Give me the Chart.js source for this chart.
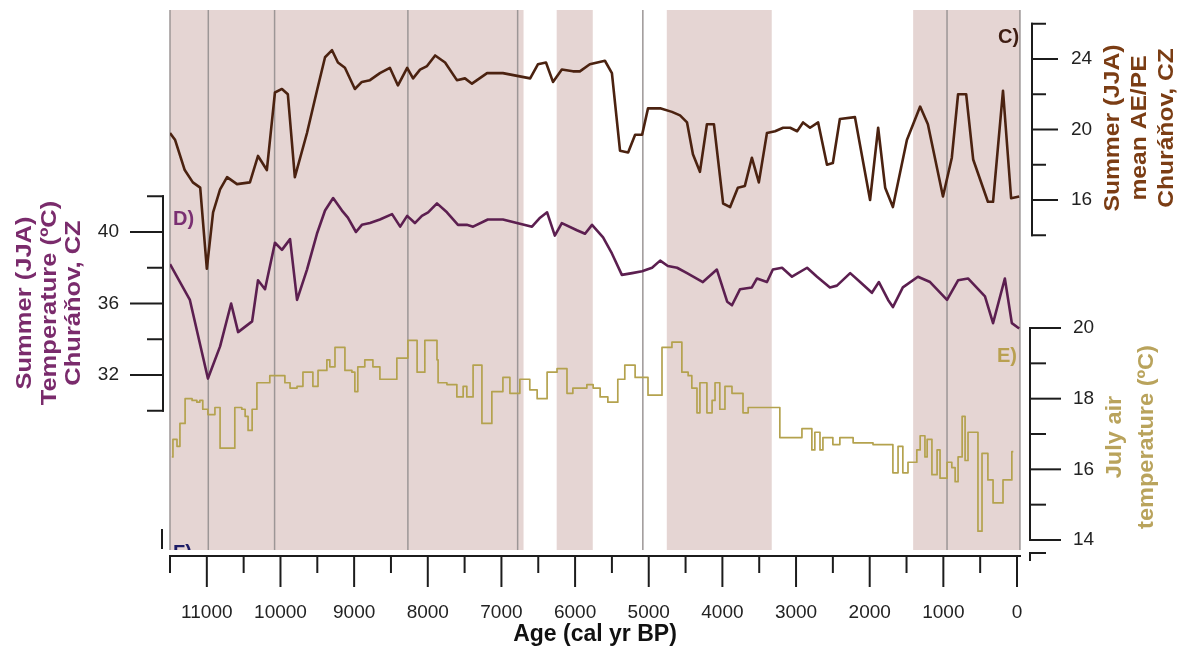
<!DOCTYPE html>
<html>
<head>
<meta charset="utf-8">
<script src="https://cdn.jsdelivr.net/npm/chart.js@4.4.1/dist/chart.umd.min.js"></script>
<style>
  body { margin: 0; background: #fff; }
  #wrap { width: 1181px; height: 650px; }
</style>
</head>
<body>
<div id="wrap"><canvas id="myChart" width="1181" height="650"></canvas></div>
<script>
// C) Summer (JJA) mean AE/PE, Churáňov
const ageC = [11500, 11430, 11300, 11190, 11090, 11000, 10915, 10820, 10725, 10590, 10415, 10305, 10185, 10075, 9980, 9900, 9805, 9640, 9505, 9395,
  9300, 9220, 9125, 8990, 8895, 8785, 8650, 8515, 8405, 8280, 8200, 8105, 8010, 7900, 7765, 7605, 7495, 7400, 7195, 6980,
  6610, 6505, 6395, 6300, 6180, 6030, 5935, 5800, 5595, 5500, 5390, 5280, 5185, 5090, 5010, 4845, 4685, 4575, 4480, 4400,
  4305, 4210, 4115, 3990, 3895, 3790, 3695, 3600, 3505, 3395, 3285, 3175, 3080, 2985, 2905, 2810, 2700, 2580, 2500, 2405,
  2200, 1995, 1885, 1790, 1685, 1495, 1315, 1210, 1005, 885, 800, 690, 595, 395, 325, 190, 80, -30];
const valC = [19.8, 19.4, 17.7, 17.0, 16.7, 12.1, 15.3, 16.6, 17.3, 16.9, 17.0, 18.5, 17.7, 22.1, 22.3, 22.0, 17.3, 19.8, 22.2, 24.1,
  24.5, 23.8, 23.5, 22.3, 22.7, 22.8, 23.2, 23.5, 22.5, 23.5, 22.9, 23.4, 23.6, 24.2, 23.8, 22.8, 22.9, 22.6, 23.2, 23.2,
  22.9, 23.7, 23.8, 22.7, 23.4, 23.3, 23.3, 23.7, 23.9, 23.2, 18.8, 18.7, 19.7, 19.7, 21.2, 21.2, 21.0, 20.8, 20.4, 18.6,
  17.6, 20.3, 20.3, 15.8, 15.6, 16.7, 16.8, 18.4, 17.0, 19.8, 19.9, 20.1, 20.1, 19.9, 20.4, 20.1, 20.4, 18.0, 18.1, 20.6,
  20.7, 16.0, 20.1, 16.7, 15.6, 19.4, 21.3, 20.3, 16.2, 18.4, 22.0, 22.0, 18.3, 15.9, 15.9, 22.2, 16.1, 16.2];

// D) Summer (JJA) temperature, Churáňov
const ageD = [11500, 11230, 10985, 10820, 10670, 10575, 10385, 10305, 10210, 10075, 9980, 9870, 9775, 9640, 9505, 9395, 9285, 9165, 9085, 8975,
  8895, 8785, 8650, 8485, 8375, 8280, 8175, 8080, 7995, 7875, 7740, 7590, 7470, 7385, 7185, 6980, 6585, 6475, 6380, 6275,
  6180, 5975, 5865, 5770, 5620, 5500, 5365, 5225, 5090, 4955, 4845, 4740, 4615, 4480, 4265, 4075, 3935, 3870, 3760, 3600,
  3530, 3395, 3315, 3190, 3055, 2850, 2715, 2540, 2445, 2265, 2130, 1970, 1875, 1750, 1685, 1550, 1345, 1180, 950, 800,
  665, 435, 325, 165, 70, -30];
const valD = [38.2, 36.2, 31.8, 33.6, 36.0, 34.4, 35.0, 37.3, 36.8, 39.4, 39.0, 39.6, 36.2, 37.9, 39.9, 41.2, 41.9, 41.2, 40.8, 40.0,
  40.4, 40.5, 40.7, 41.0, 40.3, 40.9, 40.5, 40.9, 41.1, 41.6, 41.1, 40.4, 40.4, 40.3, 40.7, 40.7, 40.3, 40.8, 41.1, 39.8,
  40.5, 40.1, 39.9, 40.4, 39.7, 38.8, 37.6, 37.7, 37.8, 38.0, 38.4, 38.1, 38.0, 37.7, 37.2, 37.9, 36.1, 35.9, 36.8, 36.9,
  37.4, 37.2, 37.9, 38.0, 37.5, 38.0, 37.5, 36.9, 37.0, 37.7, 37.2, 36.6, 37.2, 36.2, 35.8, 36.9, 37.5, 37.2, 36.2, 37.3,
  37.4, 36.4, 34.9, 37.4, 34.9, 34.6];

// E) July air temperature (step record)
const ageE = [11475, 11460, 11405, 11365, 11295, 11200, 11135, 11095, 11055, 10985, 10890, 10820, 10620, 10525, 10480, 10440, 10385, 10320, 10145, 9940,
  9870, 9775, 9695, 9560, 9490, 9370, 9330, 9260, 9125, 9030, 8990, 8950, 8855, 8745, 8650, 8420, 8270, 8145, 8040, 7875,
  7860, 7740, 7605, 7520, 7470, 7385, 7265, 7130, 6980, 6885, 6750, 6615, 6515, 6380, 6245, 6110, 6030, 5840, 5755, 5660,
  5555, 5420, 5325, 5185, 5010, 4820, 4685, 4550, 4465, 4415, 4345, 4305, 4210, 4140, 4100, 4035, 3965, 3870, 3720, 3650,
  3220, 2920, 2785, 2745, 2675, 2635, 2500, 2405, 2225, 1955, 1685, 1615, 1550, 1480, 1360, 1315, 1250, 1220, 1155, 1085,
  1045, 950, 885, 840, 800, 745, 705, 665, 530, 475, 395, 325, 190, 70, 50];
const valE = [16.35, 16.85, 16.65, 17.3, 18.0, 17.95, 17.9, 17.95, 17.7, 17.55, 17.75, 16.6, 17.75, 17.7, 17.5, 17.1, 17.7, 18.45, 18.65, 18.45,
  18.3, 18.35, 18.75, 18.35, 18.8, 19.1, 18.9, 19.45, 18.8, 18.75, 18.2, 18.9, 19.1, 18.9, 18.55, 19.15, 19.65, 18.75, 19.65, 19.1,
  18.45, 18.4, 18.05, 18.35, 18.05, 18.95, 17.3, 18.2, 18.6, 18.15, 18.55, 18.25, 18.0, 18.75, 18.85, 18.15, 18.3, 18.4, 18.3, 18.05,
  17.9, 18.55, 18.95, 18.6, 18.1, 19.45, 19.6, 18.75, 18.65, 18.3, 17.6, 18.45, 17.6, 17.95, 18.45, 17.7, 18.35, 18.15, 17.6, 17.75,
  16.9, 17.15, 16.55, 17.05, 16.55, 16.9, 16.7, 16.9, 16.75, 16.7, 15.9, 16.65, 15.9, 16.2, 16.55, 16.95, 16.35, 16.85, 15.85, 16.55,
  15.75, 16.2, 16.05, 15.65, 16.35, 17.5, 16.25, 17.05, 14.25, 16.45, 15.7, 15.05, 15.7, 16.5, 16.5];

// shaded intervals and event lines (cal yr BP)
const bands = [[11500, 6700], [6250, 5760], [4755, 3330], [1410, -40]];
const events = [11500, 10980, 10080, 8270, 6780, 5080, 950, -40];

// tick labels
const xLabels = [0, 1000, 2000, 3000, 4000, 5000, 6000, 7000, 8000, 9000, 10000, 11000];
const ticksC = [16, 20, 24];
const ticksD = [32, 36, 40];
const ticksE = [14, 16, 18, 20];

const FONT = "'Liberation Sans', Arial, sans-serif";
Chart.defaults.font.family = FONT;

// plot box in canvas pixels
const area = { left: 170, right: 1020, top: 10, bottom: 556 };
const pxPerYr = (1017 - 170) / 11500;

// each panel axis only covers part of the plot height
function yLimits(v1, p1, v2, p2) {
  const u = (p2 - p1) / (v1 - v2);
  return { min: v2 - (area.bottom - p2) / u, max: v1 + (p1 - area.top) / u };
}
const limC = yLimits(24, 59, 16, 200);
const limD = yLimits(40, 232, 32, 375);
const limE = yLimits(20, 328, 14, 540);

function pts(ages, vals) {
  return ages.map((a, i) => ({ x: a, y: vals[i] }));
}

function drawYAxis(ctx, s, o) {
  const dir = o.side === 'left' ? -1 : 1;
  ctx.strokeStyle = '#1c1c1c';
  ctx.lineWidth = 2;
  ctx.lineCap = 'square';
  ctx.beginPath();
  ctx.moveTo(o.x, s.getPixelForValue(o.hi));
  ctx.lineTo(o.x, s.getPixelForValue(o.lo));
  ctx.stroke();
  ctx.fillStyle = '#222';
  ctx.font = '19px ' + FONT;
  ctx.textBaseline = 'middle';
  ctx.textAlign = o.side === 'left' ? 'right' : 'left';
  for (let v = o.lo; v <= o.hi + 1e-6; v += o.step) {
    const py = s.getPixelForValue(v);
    const major = o.labels.includes(v);
    ctx.beginPath();
    ctx.moveTo(o.x, py);
    ctx.lineTo(o.x + dir * (major ? o.majLen : o.minLen), py);
    ctx.stroke();
    if (major) ctx.fillText(String(v), o.x + dir * (o.majLen + o.gap), py);
  }
}

// rotated multi-line axis title, slightly stretched along the text like the source figure
function drawTitle(ctx, lines, xs, cy, color, stretch) {
  ctx.save();
  ctx.fillStyle = color;
  ctx.font = 'bold 22px ' + FONT;
  ctx.textAlign = 'center';
  ctx.textBaseline = 'middle';
  lines.forEach((t, i) => {
    ctx.save();
    ctx.translate(xs[i], cy);
    ctx.rotate(-Math.PI / 2);
    ctx.scale(stretch, 1);
    ctx.fillText(t, 0, 0);
    ctx.restore();
  });
  ctx.restore();
}

const decor = {
  id: 'decor',
  beforeDatasetsDraw(chart) {
    const { ctx, chartArea: a, scales: { x } } = chart;
    ctx.save();
    ctx.fillStyle = '#e5d5d3';
    bands.forEach(([b0, b1]) => {
      const x0 = x.getPixelForValue(b0), x1 = x.getPixelForValue(b1);
      ctx.fillRect(Math.min(x0, x1), a.top, Math.abs(x1 - x0), a.bottom - 6 - a.top);
    });
    ctx.strokeStyle = '#9c9696';
    ctx.lineWidth = 1.5;
    events.forEach(v => {
      const px = x.getPixelForValue(v);
      ctx.beginPath();
      ctx.moveTo(px, a.top);
      ctx.lineTo(px, a.bottom - 6);
      ctx.stroke();
    });
    // clipped label of the panel below
    ctx.beginPath();
    ctx.rect(a.left, a.top, a.right - a.left, a.bottom - 6 - a.top);
    ctx.clip();
    ctx.fillStyle = '#1d1d66';
    ctx.font = 'bold 20px ' + FONT;
    ctx.textBaseline = 'top';
    ctx.fillText('F)', 173, 543);
    ctx.restore();
  },
  afterDraw(chart) {
    const { ctx, chartArea: a, scales: { x, yC, yD, yE } } = chart;
    ctx.save();
    // x axis tick marks
    ctx.strokeStyle = '#1c1c1c';
    ctx.lineWidth = 2;
    for (let v = 0; v <= 11500; v += 500) {
      const px = x.getPixelForValue(v);
      ctx.beginPath();
      ctx.moveTo(px, a.bottom);
      ctx.lineTo(px, a.bottom + (xLabels.includes(v) ? 31 : 17));
      ctx.stroke();
    }
    drawYAxis(ctx, yD, { x: 163, side: 'left', lo: 30, hi: 42, step: 2, labels: ticksD, majLen: 32, minLen: 15, gap: 12 });
    drawYAxis(ctx, yC, { x: 1032, side: 'right', lo: 14, hi: 26, step: 2, labels: ticksC, majLen: 25, minLen: 13, gap: 14 });
    drawYAxis(ctx, yE, { x: 1030, side: 'right', lo: 14, hi: 20, step: 1, labels: ticksE, majLen: 30, minLen: 15, gap: 13 });
    // stubs of the clipped panel F axes
    ctx.beginPath();
    ctx.moveTo(162, 530); ctx.lineTo(162, 548);
    ctx.moveTo(1045, 553); ctx.lineTo(1030, 553); ctx.lineTo(1030, 560);
    ctx.stroke();

    drawTitle(ctx, ['Summer (JJA)', 'Temperature (ºC)', 'Churáňov, CZ'], [25, 50, 74], 303, '#7a2b6c', 1.16);
    drawTitle(ctx, ['Summer (JJA)', 'mean AE/PE', 'Churáňov, CZ'], [1113, 1140, 1167], 128, '#7b3d14', 1.12);
    drawTitle(ctx, ['July air', 'temperature (ºC)'], [1115, 1147], 437, '#b9a35c', 1.07);

    ctx.font = 'bold 20px ' + FONT;
    ctx.textBaseline = 'middle';
    ctx.textAlign = 'left';
    ctx.fillStyle = '#3e1d12'; ctx.fillText('C)', 998, 37);
    ctx.fillStyle = '#7a2f72'; ctx.fillText('D)', 173, 219);
    ctx.fillStyle = '#b9a050'; ctx.fillText('E)', 997, 356);
    ctx.restore();
  }
};

const ctx = document.getElementById('myChart');

new Chart(ctx, {
  type: 'line',
  data: {
    datasets: [
      { label: 'C', data: pts(ageC, valC), yAxisID: 'yC', borderColor: '#4b2210', borderWidth: 2.6 },
      { label: 'D', data: pts(ageD, valD), yAxisID: 'yD', borderColor: '#5c1f50', borderWidth: 2.6 },
      { label: 'E', data: pts(ageE, valE), yAxisID: 'yE', borderColor: '#b4a24e', borderWidth: 1.7, stepped: true }
    ]
  },
  options: {
    responsive: false,
    animation: false,
    devicePixelRatio: 1,
    layout: { padding: { left: area.left, right: 1181 - area.right, top: area.top, bottom: 0 } },
    elements: { point: { radius: 0 }, line: { tension: 0, borderJoinStyle: 'round' } },
    plugins: { legend: { display: false }, tooltip: { enabled: false } },
    scales: {
      x: {
        type: 'linear',
        reverse: true,
        min: -(area.right - 1017) / pxPerYr,
        max: 11500,
        afterBuildTicks: s => { s.ticks = xLabels.map(v => ({ value: v })); },
        afterFit: s => { s.height = 650 - area.bottom; },
        grid: { display: false, drawTicks: false },
        border: { display: true, color: '#1c1c1c', width: 2 },
        ticks: { padding: 45, color: '#222', font: { size: 19 }, autoSkip: false, maxRotation: 0, callback: v => String(v) },
        title: { display: true, text: 'Age (cal yr BP)', color: '#111', font: { size: 23, weight: 'bold' }, padding: { top: 0, bottom: 2 } }
      },
      yC: { display: false, min: limC.min, max: limC.max },
      yD: { display: false, min: limD.min, max: limD.max },
      yE: { display: false, min: limE.min, max: limE.max }
    }
  },
  plugins: [decor]
});
</script>
</body>
</html>
